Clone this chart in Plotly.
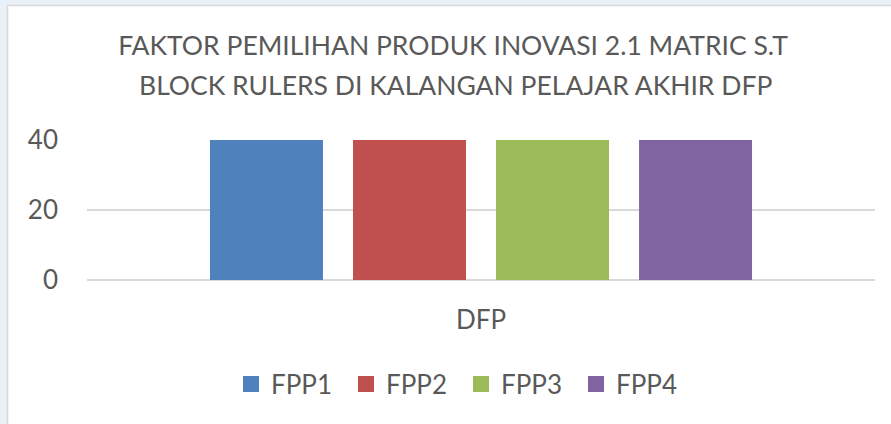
import plotly.graph_objects as go

# Data
categories = ["DFP"]
series_names = ["FPP1", "FPP2", "FPP3", "FPP4"]
series_values = [[40], [40], [40], [40]]
series_colors = ["#4f81bd", "#c0504d", "#9bbb59", "#8064a2"]
y_ticks = [0, 20, 40]

title_line1 = "FAKTOR PEMILIHAN PRODUK INOVASI 2.1 MATRIC S.T"
title_line2 = "BLOCK RULERS DI KALANGAN PELAJAR AKHIR DFP"

W, H = 891, 424
ML, MR, MT, MB = 87, 16, 140, 144
PW, PH = W - ML - MR, H - MT - MB

FONT = "Lato"
TXT = "#595959"
GRID = "#d9d9d9"
TITLE_SIZE = 26.5


def px_x(px):
    return (px - ML) / PW


def px_y(py):
    return (H - MB - py) / PH


fig = go.Figure()
for name, vals, col in zip(series_names, series_values, series_colors):
    fig.add_trace(go.Bar(x=categories, y=vals, name=name, marker_color=col,
                         marker_line_width=0, legendgroup=name, showlegend=False))
    # square legend key for the series
    fig.add_trace(go.Scatter(x=[None], y=[None], mode="markers", name=name,
                             legendgroup=name, hoverinfo="skip",
                             marker=dict(symbol="square", size=16, color=col,
                                         line_width=0)))

fig.update_layout(
    width=W, height=H,
    margin=dict(l=ML, r=MR, t=MT, b=MB, pad=0),
    paper_bgcolor="#e8f0f8",
    plot_bgcolor="white",
    barmode="group",
    bargap=0.274,
    bargroupgap=0.21,
    font=dict(family=FONT, color=TXT, size=26),
    title=dict(text=title_line1, x=453 / W, xanchor="center",
               y=1 - 46 / H, yanchor="middle", yref="container",
               font=dict(family=FONT, color=TXT, size=TITLE_SIZE)),
    xaxis=dict(showgrid=False, showline=False, ticks="",
               ticklabelstandoff=22, tickfont=dict(size=26)),
    yaxis=dict(range=[0, 40], tickvals=y_ticks, showgrid=True, gridcolor=GRID,
               gridwidth=1.5, zeroline=True, zerolinecolor=GRID, zerolinewidth=1.5,
               showline=False, ticks="", ticklabelstandoff=28,
               tickfont=dict(size=26)),
    legend=dict(orientation="h", x=px_x(461), xanchor="center",
                y=px_y(384), yanchor="middle", entrywidth=70,
                font=dict(size=26), bgcolor="rgba(0,0,0,0)"),
    showlegend=True,
    annotations=[
        # second line of the chart title
        dict(text=title_line2, xref="paper", yref="paper",
             x=px_x(455), y=px_y(85), xanchor="center", yanchor="middle",
             showarrow=False, font=dict(family=FONT, color=TXT, size=TITLE_SIZE)),
    ],
    shapes=[
        # white chart area with a thin grey border on its top and left
        dict(type="rect", xref="paper", yref="paper", layer="below",
             x0=px_x(7.5), x1=px_x(W + 5), y0=px_y(H + 5), y1=px_y(5.5),
             fillcolor="white", line=dict(color=GRID, width=1.5)),
    ],
)

fig.write_html("out.html")
